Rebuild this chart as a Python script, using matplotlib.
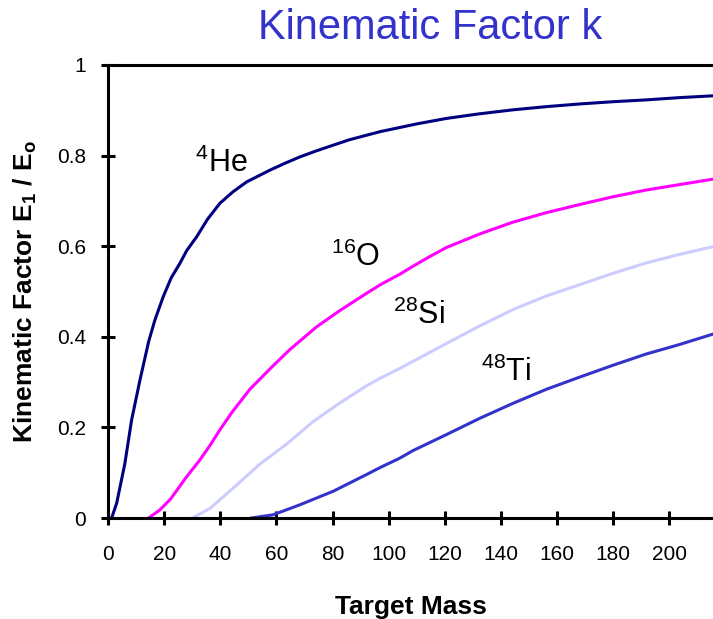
import matplotlib
matplotlib.use("Agg")
import matplotlib.pyplot as plt

plt.rcParams['font.family'] = ['Liberation Sans', 'DejaVu Sans']
plt.rcParams['mathtext.fontset'] = 'custom'
plt.rcParams['mathtext.rm'] = 'Liberation Sans'
plt.rcParams['mathtext.bf'] = 'Liberation Sans:bold'

# Kinematic factor vs target mass, one curve per projectile
he_mass = [1.3, 3.1, 6, 8.4, 11.4, 14.5, 16.7, 19.7, 22.5, 25.6, 28, 31.6, 35.5,
           39.9, 44.5, 49.4, 57.7, 63, 68.3, 74, 80.2, 86, 92.1, 97, 103.9, 110,
           120.5, 132, 144.2, 156, 168, 180, 191.7, 203.6, 215.5]
he_k = [0.0, 0.033, 0.12, 0.216, 0.305, 0.39, 0.437, 0.489, 0.53, 0.562, 0.59,
        0.621, 0.66, 0.695, 0.72, 0.742, 0.768, 0.783, 0.797, 0.810, 0.823, 0.835,
        0.845, 0.853, 0.862, 0.870, 0.882, 0.892, 0.901, 0.908, 0.914, 0.919,
        0.923, 0.928, 0.932]

o_mass = [14.5, 18.5, 22.3, 28, 32.7, 36.3, 39.9, 44, 50.5, 58.8, 64.8, 74.3,
          82.6, 92.1, 97, 103.9, 108.7, 114, 120.5, 132.4, 144.2, 156.1, 168,
          179.8, 191.7, 203.6, 215.5]
o_k = [0.0, 0.018, 0.042, 0.091, 0.128, 0.16, 0.195, 0.232, 0.284, 0.336, 0.372,
       0.422, 0.458, 0.496, 0.515, 0.538, 0.556, 0.575, 0.597, 0.627, 0.653,
       0.674, 0.692, 0.709, 0.724, 0.736, 0.748]

si_mass = [30, 36.3, 44.6, 54.1, 63.6, 73.1, 82.6, 92.1, 96.8, 103.9, 108.7,
           120.5, 132.4, 144.2, 156.1, 168, 179.8, 191.7, 203.6, 215.5]
si_k = [0.0, 0.021, 0.066, 0.119, 0.163, 0.213, 0.254, 0.292, 0.308, 0.330,
        0.346, 0.385, 0.424, 0.460, 0.490, 0.515, 0.540, 0.563, 0.582, 0.599]

ti_mass = [51, 58.8, 68.3, 80.2, 92.1, 96.8, 103.9, 108.7, 120.5, 132.4, 144.2,
           156.1, 168, 179.8, 191.7, 203.6, 215.5]
ti_k = [0.0, 0.007, 0.029, 0.059, 0.096, 0.111, 0.132, 0.149, 0.184, 0.220,
        0.253, 0.284, 0.311, 0.337, 0.362, 0.383, 0.406]

x_ticks = [0, 20, 40, 60, 80, 100, 120, 140, 160, 180, 200]
y_ticks = [0, 0.2, 0.4, 0.6, 0.8, 1]
y_tick_labels = ['0', '0.2', '0.4', '0.6', '0.8', '1']

fig = plt.figure(figsize=(7.13, 6.19), dpi=100)
ax = fig.add_axes([108 / 713, 1 - 518 / 619, 1 - 108 / 713, (518 - 65) / 619])

ax.plot(he_mass, he_k, color='#000080', lw=2.2, clip_on=False)
ax.plot(o_mass, o_k, color='#FF00FF', lw=2.2, clip_on=False)
ax.plot(si_mass, si_k, color='#CCCCFF', lw=2.2, clip_on=False)
ax.plot(ti_mass, ti_k, color='#3333CC', lw=2.2, clip_on=False)

ax.set_xlim(0, 215.5)
ax.set_ylim(0, 1)
ax.set_xticks(x_ticks)
ax.set_xticklabels([str(v) for v in x_ticks])
ax.set_yticks(y_ticks)
ax.set_yticklabels(y_tick_labels)
ax.tick_params(axis='both', direction='inout', length=9.5, width=2.2,
               labelsize=15, colors='black')
ax.tick_params(axis='y', pad=11)
ax.tick_params(axis='x', pad=15)

for side in ['left', 'bottom', 'top']:
    ax.spines[side].set_linewidth(2.2)
ax.spines['right'].set_visible(False)

ax.set_xlabel('Target Mass', fontsize=19, fontweight='bold', labelpad=22)
ax.set_ylabel(r'Kinematic Factor E$_\mathbf{1}$ / E$_\mathbf{o}$',
              fontsize=19, fontweight='bold', labelpad=13)

fig.text(430 / 713, 1 - 39 / 619, 'Kinematic Factor k', color='#3333CC',
         fontsize=30, ha='center', va='baseline')

ax.text(31, 0.764, r'$^{4}\mathrm{He}$', fontsize=22, ha='left', va='baseline')
ax.text(79.6, 0.556, r'$^{16}\mathrm{O}$', fontsize=22, ha='left', va='baseline')
ax.text(101.4, 0.428, r'$^{28}\mathrm{Si}$', fontsize=22, ha='left', va='baseline')
ax.text(133, 0.302, r'$^{48}\mathrm{Ti}$', fontsize=22, ha='left', va='baseline')

fig.savefig('out.png', dpi=100)
